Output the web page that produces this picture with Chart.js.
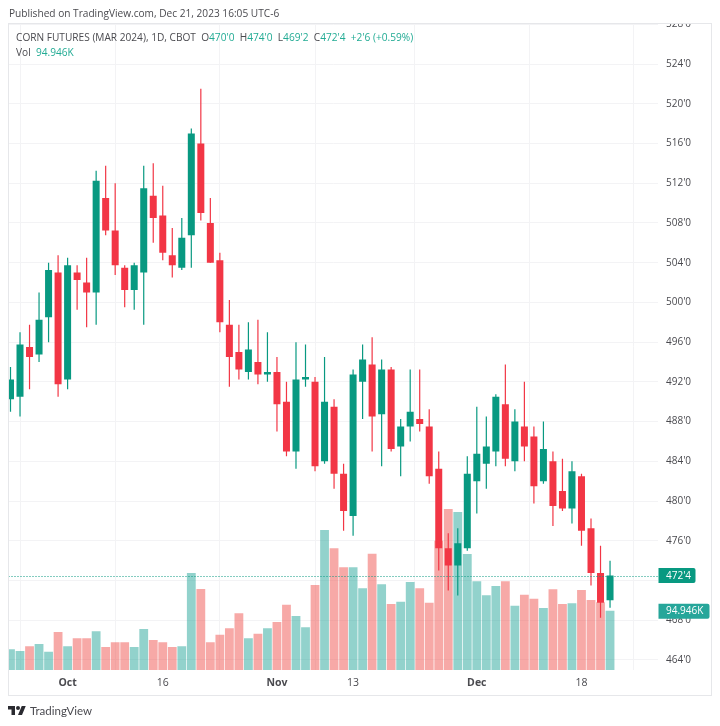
<!DOCTYPE html>
<html>
<head>
<meta charset="utf-8">
<script src="https://cdn.jsdelivr.net/npm/chart.js@4"></script>
<style>
html,body{margin:0;padding:0;background:#fff;}
#wrap{position:relative;width:720px;height:726px;overflow:hidden;font-family:"Open Sans",sans-serif;}
canvas{position:absolute;left:0;top:0;}
.t{position:absolute;white-space:pre;color:#4a4a4f;font-size:10.15px;line-height:14px;}
.g{color:#22ab94;}
#logoText{font-family:Lato,sans-serif;font-size:11.5px;color:#4a4a50;}
svg{position:absolute;}
</style>
</head>
<body>
<div id="wrap">
<canvas id="c" width="720" height="726"></canvas>
<div class="t" style="left:9px;top:6px;">Published on TradingView.com, Dec 21, 2023 16:05 UTC-6</div>
<div class="t" style="left:16px;top:30px;">CORN FUTURES (MAR 2024), 1D, CBOT  O<span class="g">470'0</span>  H<span class="g">474'0</span>  L<span class="g">469'2</span>  C<span class="g">472'4</span>  <span class="g">+2'6 (+0.59%)</span></div>
<div class="t" style="left:16px;top:45px;">Vol  <span class="g">94.946K</span></div>
<svg style="left:8px;top:704px;" width="18" height="14" viewBox="0 0 36 28"><path fill="#2a2a30" d="M14 22H7V11H0V4h14v18zM28 22h-8l7.5-18h8L28 22z"/><circle fill="#2a2a30" cx="20" cy="8" r="4"/></svg>
<div class="t" id="logoText" style="left:30px;top:704px;">TradingView</div>
</div>
<script>
const dates = ["Sep 22","Sep 25","Sep 26","Sep 27","Sep 28","Sep 29","Oct 2","Oct 3","Oct 4","Oct 5","Oct 6","Oct 9","Oct 10","Oct 11","Oct 12","Oct 13","Oct 16","Oct 17","Oct 18","Oct 19","Oct 20","Oct 23","Oct 24","Oct 25","Oct 26","Oct 27","Oct 30","Oct 31","Nov 1","Nov 2","Nov 3","Nov 6","Nov 7","Nov 8","Nov 9","Nov 10","Nov 13","Nov 14","Nov 15","Nov 16","Nov 17","Nov 20","Nov 21","Nov 22","Nov 24","Nov 27","Nov 28","Nov 29","Nov 30","Dec 1","Dec 4","Dec 5","Dec 6","Dec 7","Dec 8","Dec 11","Dec 12","Dec 13","Dec 14","Dec 15","Dec 18","Dec 19","Dec 20","Dec 21"];
const opens = [490.25,490.5,495.5,494.75,498.5,503,492.25,503,502,501,510.5,507.25,503.5,501.25,503,510.75,508.75,504.75,503.5,506.75,516,508,504.25,497.75,495,493,494,492.75,493,490,485,492.25,492,484,489.5,482.75,478.5,492,493.75,488.75,493.25,485.5,487.5,488.25,487.5,483.25,475.25,473.5,475.25,482,483.75,485,489.75,484,487.5,486.5,482,484,481,479.25,482.5,477.25,472.75,470];
const highs = [493.5,497,497.75,501,504,504.75,504.5,503.75,504.5,513.25,513.75,512,503.75,504,513.75,514,511.75,507.5,508.5,517.5,521.5,510.5,505,500.25,497.75,498,498.25,497,494.5,492,496,495.75,492.5,494.5,490.25,483.75,493.25,495.75,496.5,494.25,493.5,488.25,493.25,493.25,489.25,485,476.75,477.25,484.5,489.5,488.5,490.75,493.75,489.25,492,487.5,488,485,484.25,484,482.75,478.25,475.5,474];
const lows = [489,488.5,491.25,494,496,490.5,491.25,499.25,497.5,497.75,506.75,502.75,499.5,499.25,497.75,506,504.25,502.5,503.25,503.5,508.25,504,497,491.5,492.25,492.25,491.75,492,487,484.5,483.25,491.5,483,483.75,481.25,477,476.5,488.25,485,483.5,485,482.5,486,487,481.75,473,471,470.5,475,478.75,481.25,483.5,483.5,483,484,479.75,481.75,477.5,479,477.75,475.5,471.5,468.25,469.25];
const closes = [492.25,495.75,494.5,498.25,503.25,491.75,503.75,502.25,501,512.25,507.25,503.75,501.25,503.75,511.5,508.5,505,503.75,506.5,517,509,504,498,494.5,493.25,495.25,492.75,493,489.75,485,492.25,492.5,483.5,490,482.75,479,492.75,494.25,488.5,493.25,485.25,487.5,489,487.75,482.5,475.25,473.5,475.75,482.75,484.75,485.5,490.5,484.25,488,485.5,481.5,485.25,479.5,479.25,483,477,472.75,469.75,472.5];
const volumes = [33.1,30.4,37.9,41.6,29.4,60.8,37.9,50.7,50.7,61.9,36.8,44.3,44.3,36.8,65.6,48,44.3,36.8,37.9,155.3,129.7,44.3,56.6,66.7,90.7,50.7,58.2,66.7,76.8,104.6,86.5,68.3,136.1,224.1,194.8,164.4,164.4,130.8,186.2,137.2,105.7,109.4,140.9,130.8,107.8,207.1,257.8,253,185.7,142,119.5,134.5,142,103,120.6,114.2,99.3,129.1,105.7,106.7,128.1,112.1,108.3,94.946];
const priceTicks = [464,468,472,476,480,484,488,492,496,500,504,508,512,516,520,524,528];
const timeTickIndex = [6,16,28,36,49,60];
const timeTickLabels = ["Oct","16","Nov","13","Dec","18"];
const monthLabels = ["Oct","Nov","Dec"];
const lastPriceLabel = "472'4";
const lastVolumeLabel = "94.946K";

const UP = "#089981", DOWN = "#f23645";
const UPV = "rgba(38,166,154,0.5)", DOWNV = "rgba(239,83,80,0.5)";
const isUp = i => closes[i] >= opens[i];
const candleColors = closes.map((c,i)=> isUp(i) ? UP : DOWN);
const volumeColors = closes.map((c,i)=> isUp(i) ? UPV : DOWNV);
const idx = closes.map((c,i)=>i);
const TEXT = "#4a4a4f";
const FONT = '"Open Sans", sans-serif';

const overlay = {
  id:"overlay",
  afterDatasetsDraw(chart){
    const {ctx, chartArea:a, scales:{y}} = chart;
    const last = closes.length-1;
    const py = y.getPixelForValue(closes[last]);
    ctx.save();
    ctx.strokeStyle = UP; ctx.lineWidth = 1; ctx.setLineDash([1,2]);
    ctx.beginPath(); ctx.moveTo(a.left, Math.round(py)+0.5); ctx.lineTo(a.right, Math.round(py)+0.5); ctx.stroke();
    ctx.restore();
  },
  afterDraw(chart){
    const {ctx, chartArea:a, scales:{y,y1}} = chart;
    const last = closes.length-1;
    const py = y.getPixelForValue(closes[last]);
    const vy = y1.getPixelForValue(volumes[last]);
    ctx.save();
    ctx.fillStyle = "#fff"; ctx.fillRect(a.right, 0, 62, a.top);
    ctx.strokeStyle = "#e6e7ea"; ctx.lineWidth = 1;
    ctx.strokeRect(8.5, 23.5, 703, 672);
    ctx.textBaseline = "middle"; ctx.textAlign = "left";
    ctx.font = '10px '+FONT;
    ctx.fillStyle = UP;
    ctx.beginPath(); ctx.roundRect(a.right+0.5, py-7.5, 37, 15, [0,2,2,0]); ctx.fill();
    ctx.fillStyle = "#fff"; ctx.fillText(lastPriceLabel, a.right+8, py+0.5);
    ctx.fillStyle = "#26a69a";
    ctx.beginPath(); ctx.roundRect(a.right+0.5, vy-7, 51, 15, [0,2,2,0]); ctx.fill();
    ctx.fillStyle = "#fff"; ctx.fillText(lastVolumeLabel, a.right+8, vy+0.5);
    ctx.restore();
  }
};

new Chart(document.getElementById("c"), {
  type:"bar",
  data:{
    datasets:[
      {label:"Vol", data:idx.map(i=>({x:i,y:volumes[i]})), yAxisID:"y1", backgroundColor:volumeColors, barThickness:8.8, order:3, grouped:false, inflateAmount:0, borderWidth:0},
      {label:"Wick", data:idx.map(i=>({x:i,y:[lows[i],highs[i]]})), yAxisID:"y", backgroundColor:candleColors, barThickness:1.2, order:2, grouped:false, inflateAmount:0, borderWidth:0},
      {label:"Body", data:idx.map(i=>({x:i,y:[opens[i],closes[i]]})), yAxisID:"y", backgroundColor:candleColors, barThickness:7, order:1, grouped:false, inflateAmount:0, borderWidth:0}
    ]
  },
  options:{
    responsive:false, animation:false, devicePixelRatio:1,
    layout:{padding:{left:8.5,top:23.5,right:0,bottom:0}},
    plugins:{legend:{display:false},tooltip:{enabled:false},title:{display:false}},
    scales:{
      x:{
        type:"linear", min:-0.21, max:68.04, offset:false,
        border:{display:false},
        grid:{color:"#f3f3f5",drawTicks:false},
        afterBuildTicks(s){ s.ticks = timeTickIndex.map(v=>({value:v})); },
        afterFit(s){ s.height = 56; },
        ticks:{
          autoSkip:false, maxRotation:0, padding:7, color:TEXT,
          callback:(v)=>timeTickLabels[timeTickIndex.indexOf(v)],
          font:(c)=>({family:FONT,size:10.5,weight:monthLabels.includes(timeTickLabels[c.index])?"bold":"normal"})
        }
      },
      y:{
        position:"right", min:462.99, max:528.08,
        border:{display:false},
        grid:{color:"#f3f3f5",drawTicks:false},
        afterBuildTicks(s){ s.ticks = priceTicks.map(v=>({value:v})); },
        afterFit(s){ s.width = 62; },
        ticks:{autoSkip:false, padding:8, color:TEXT, font:{family:FONT,size:10}, callback:(v)=>v+"'0"}
      },
      y1:{position:"left", display:false, min:0, max:1035}
    }
  },
  plugins:[overlay]
});
</script>
</body>
</html>
